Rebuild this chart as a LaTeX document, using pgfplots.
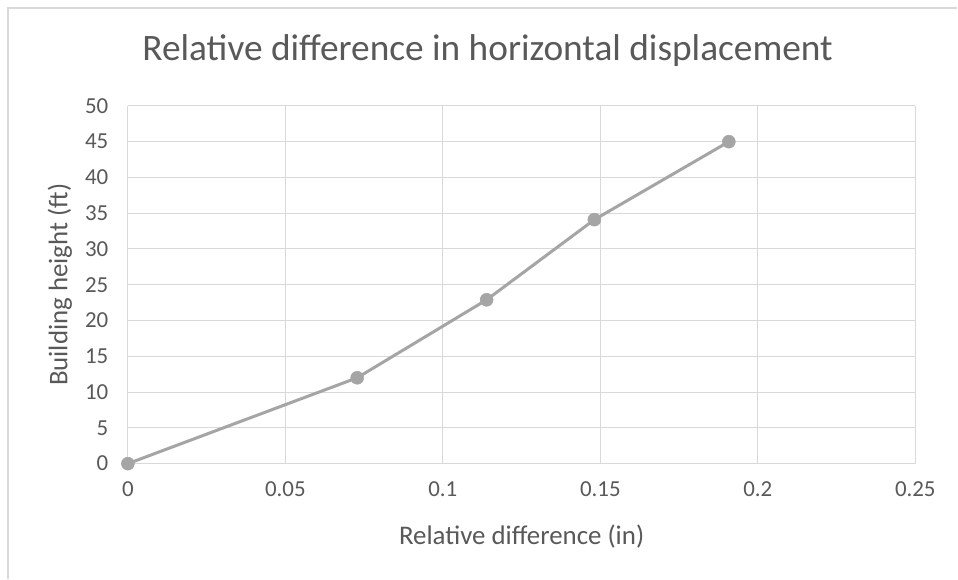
\documentclass[border=0pt]{standalone}
\usepackage{pgfplots}
\pgfplotsset{compat=1.18}
\usepackage{fontspec}
\setmainfont{Carlito}
\definecolor{txt}{HTML}{595959}
\definecolor{grd}{HTML}{D9D9D9}
\definecolor{ser}{HTML}{A5A5A5}
\begin{document}
\begin{tikzpicture}[x=1bp,y=1bp]
\fill[white] (0,0) rectangle (958,579);
\draw[grd,line width=1.5bp] (8,0) -- (8,571) -- (958,571);
\begin{axis}[
  at={(128bp,115bp)}, anchor=origin,
  scale only axis, width=788bp, height=358bp,
  xmin=0, xmax=0.25, ymin=0, ymax=50,
  xtick={0,0.05,...,0.25}, ytick={0,5,...,50},
  grid=major, major grid style={grd,line width=1bp},
  axis x line=bottom, axis y line=left,
  x axis line style={grd,line width=1bp,-},
  y axis line style={draw=none},
  tick style={draw=none},
  ticklabel style={font=\fontsize{23}{26}\selectfont, text=txt},
  /pgf/number format/assume math mode=true,
  xticklabel style={yshift=-12bp},
  yticklabel style={xshift=-14bp},
  xticklabel={\pgfmathprintnumber[fixed,precision=2]{\tick}},
  scaled x ticks=false,
  clip=false,
]
\addplot[color=ser, line width=3bp, mark=*, mark size=6.5bp, mark options={fill=ser,draw=ser,line width=0.5bp}]
  coordinates {(0,0) (0.0728,12) (0.1139,22.9) (0.1481,34.1) (0.1908,45)};
\end{axis}
\node[text=txt,font=\fontsize{37.5}{42}\selectfont] at (488,528) {Relative difference in horizontal displacement};
\node[text=txt,font=\fontsize{27}{31}\selectfont,rotate=90] at (60,294) {Building height (ft)};
\node[text=txt,font=\fontsize{27}{31}\selectfont] at (522,42) {Relative difference (in)};
\end{tikzpicture}
\end{document}
